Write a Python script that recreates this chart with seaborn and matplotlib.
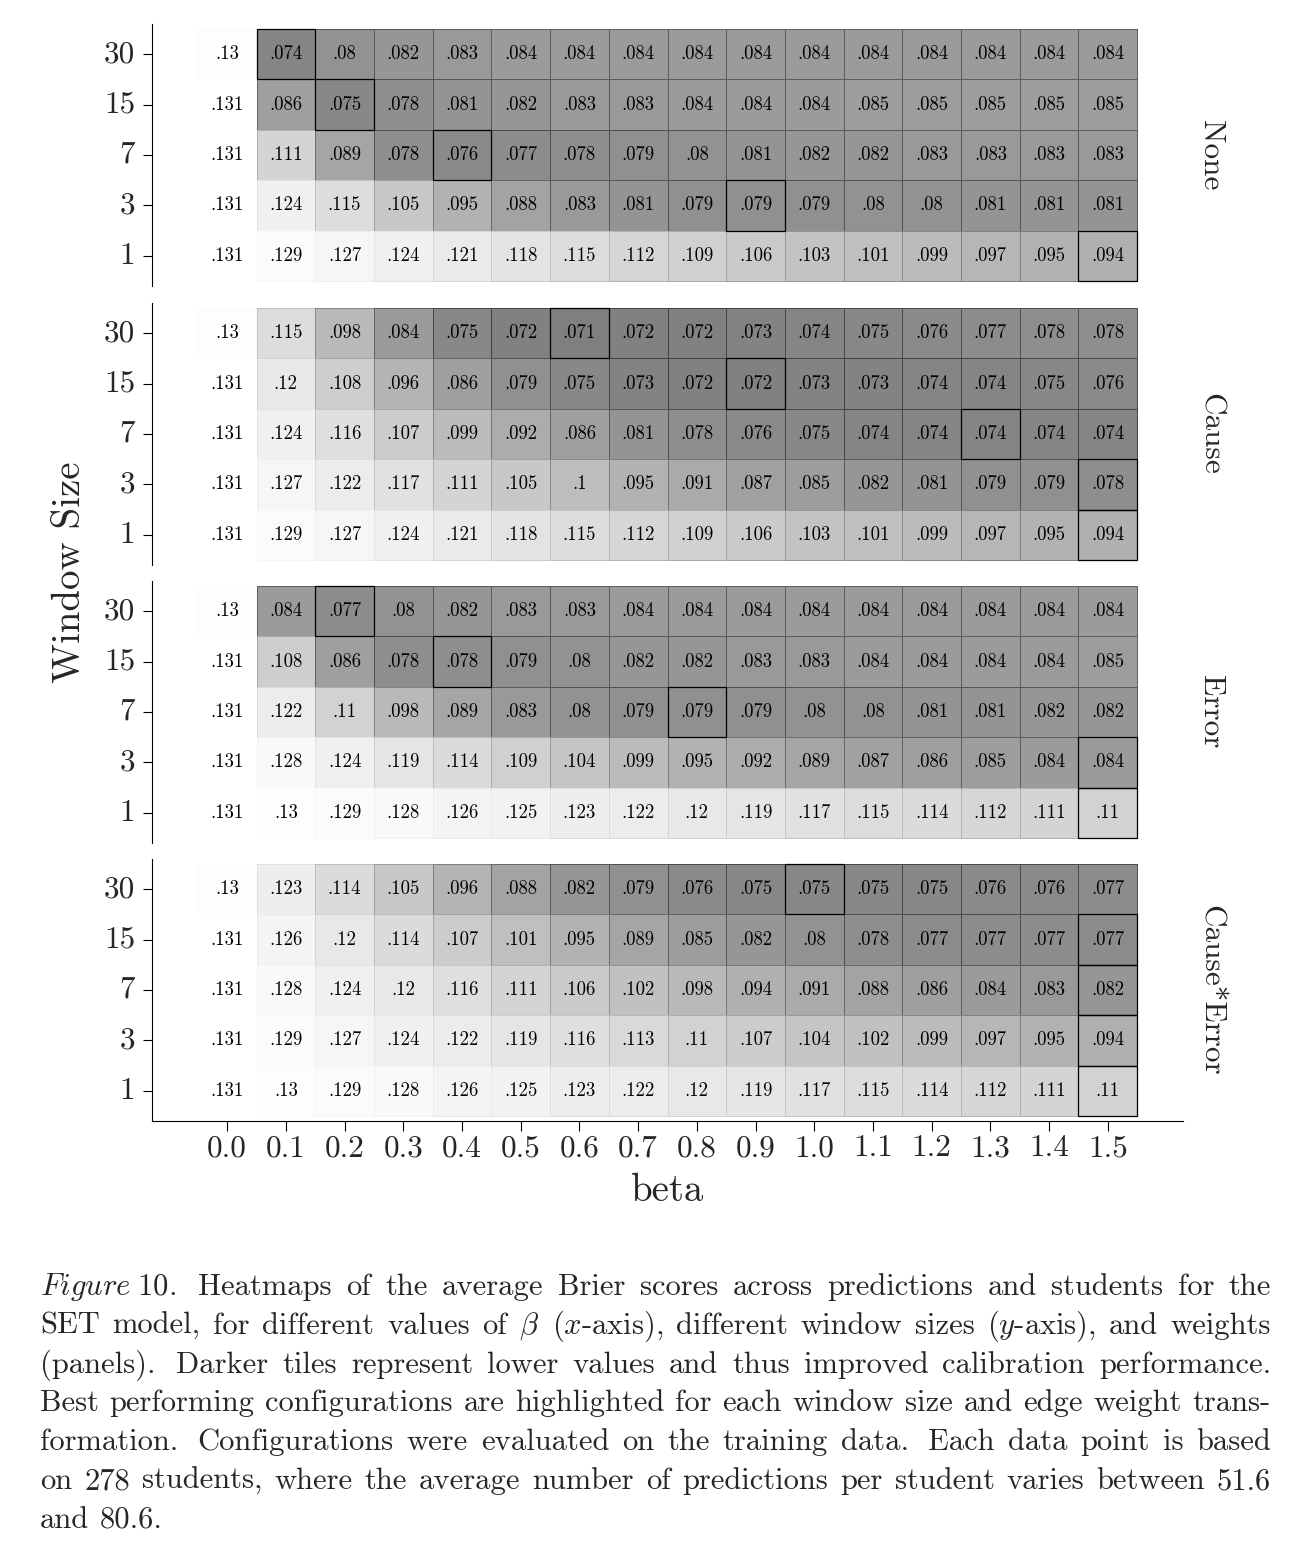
import pandas as pd
import seaborn as sns
import matplotlib.pyplot as plt
from matplotlib.colors import LinearSegmentedColormap
from matplotlib.patches import Rectangle

# datos
betas = ["0.0", "0.1", "0.2", "0.3", "0.4", "0.5", "0.6", "0.7",
         "0.8", "0.9", "1.0", "1.1", "1.2", "1.3", "1.4", "1.5"]
window_sizes = [30, 15, 7, 3, 1]
weights = ["None", "Cause", "Error", "Cause*Error"]

brier_none = [
    [.130, .074, .080, .082, .083, .084, .084, .084, .084, .084, .084, .084, .084, .084, .084, .084],
    [.131, .086, .075, .078, .081, .082, .083, .083, .084, .084, .084, .085, .085, .085, .085, .085],
    [.131, .111, .089, .078, .076, .077, .078, .079, .080, .081, .082, .082, .083, .083, .083, .083],
    [.131, .124, .115, .105, .095, .088, .083, .081, .079, .079, .079, .080, .080, .081, .081, .081],
    [.131, .129, .127, .124, .121, .118, .115, .112, .109, .106, .103, .101, .099, .097, .095, .094],
]
brier_cause = [
    [.130, .115, .098, .084, .075, .072, .071, .072, .072, .073, .074, .075, .076, .077, .078, .078],
    [.131, .120, .108, .096, .086, .079, .075, .073, .072, .072, .073, .073, .074, .074, .075, .076],
    [.131, .124, .116, .107, .099, .092, .086, .081, .078, .076, .075, .074, .074, .074, .074, .074],
    [.131, .127, .122, .117, .111, .105, .100, .095, .091, .087, .085, .082, .081, .079, .079, .078],
    [.131, .129, .127, .124, .121, .118, .115, .112, .109, .106, .103, .101, .099, .097, .095, .094],
]
brier_error = [
    [.130, .084, .077, .080, .082, .083, .083, .084, .084, .084, .084, .084, .084, .084, .084, .084],
    [.131, .108, .086, .078, .078, .079, .080, .082, .082, .083, .083, .084, .084, .084, .084, .085],
    [.131, .122, .110, .098, .089, .083, .080, .079, .079, .079, .080, .080, .081, .081, .082, .082],
    [.131, .128, .124, .119, .114, .109, .104, .099, .095, .092, .089, .087, .086, .085, .084, .084],
    [.131, .130, .129, .128, .126, .125, .123, .122, .120, .119, .117, .115, .114, .112, .111, .110],
]
brier_cause_error = [
    [.130, .123, .114, .105, .096, .088, .082, .079, .076, .075, .075, .075, .075, .076, .076, .077],
    [.131, .126, .120, .114, .107, .101, .095, .089, .085, .082, .080, .078, .077, .077, .077, .077],
    [.131, .128, .124, .120, .116, .111, .106, .102, .098, .094, .091, .088, .086, .084, .083, .082],
    [.131, .129, .127, .124, .122, .119, .116, .113, .110, .107, .104, .102, .099, .097, .095, .094],
    [.131, .130, .129, .128, .126, .125, .123, .122, .120, .119, .117, .115, .114, .112, .111, .110],
]

# columna con el mejor valor de cada fila (resaltada)
best_none = [1, 2, 4, 9, 15]
best_cause = [6, 9, 13, 15, 15]
best_error = [2, 4, 8, 15, 15]
best_cause_error = [10, 15, 15, 15, 15]

paneles = [
    (weights[0], brier_none, best_none),
    (weights[1], brier_cause, best_cause),
    (weights[2], brier_error, best_error),
    (weights[3], brier_cause_error, best_cause_error),
]

caption_lines = [
    r"$\mathit{Figure}\;\mathit{10}$. Heatmaps of the average Brier scores across predictions and students for the",
    r"SET model, for different values of $\beta$ ($x$-axis), different window sizes ($y$-axis), and weights",
    r"(panels). Darker tiles represent lower values and thus improved calibration performance.",
    r"Best performing configurations are highlighted for each window size and edge weight trans-",
    r"formation. Configurations were evaluated on the training data. Each data point is based",
    r"on 278 students, where the average number of predictions per student varies between 51.6",
    r"and 80.6.",
]

sns.set_theme(style="ticks")
plt.rcParams["font.family"] = "cmr10"
plt.rcParams["mathtext.fontset"] = "cm"
plt.rcParams["axes.unicode_minus"] = False
plt.rcParams["axes.linewidth"] = 0.8
plt.rcParams["axes.edgecolor"] = "black"

W, H = 1314, 1566
fig = plt.figure(figsize=(W / 100, H / 100), dpi=100)

cmap = LinearSegmentedColormap.from_list("gris", ["#7f7f7f", "#ffffff"])

def fmt(v):
    return f"{v:.3f}".lstrip("0").rstrip("0")

tops = [24, 303, 581, 859]
for i, (nombre, valores, mejores) in enumerate(paneles):
    df = pd.DataFrame(valores, index=window_sizes, columns=betas)
    etiquetas = df.map(fmt)
    ax = fig.add_axes([152 / W, 1 - (tops[i] + 262) / H, 1031 / W, 262 / H])
    sns.heatmap(df, ax=ax, cmap=cmap, vmin=0.071, vmax=0.131, cbar=False,
                annot=etiquetas, fmt="", linewidths=0.6, linecolor="black",
                annot_kws={"fontsize": 13.5, "color": "black"})
    # bordes de celda: el mismo gris de la celda, pero mas oscuro
    malla = ax.collections[0]
    malla.update_scalarmappable()
    caras = malla.get_facecolor().copy()
    bordes = caras.copy()
    bordes[:, :3] = caras[:, :3] ** 2
    malla.set_edgecolor(bordes)
    for fila, col in enumerate(mejores):
        ax.add_patch(Rectangle((col, fila), 1, 1, fill=False,
                               edgecolor="black", lw=0.9, zorder=5))
    ax.set_xlim(-0.78, len(betas) + 0.78)
    ax.set_ylim(len(window_sizes) + 0.1, -0.1)
    ax.spines["left"].set_visible(True)
    ax.set_ylabel("")
    ax.set_xlabel("")
    ax.set_yticklabels([str(w) for w in window_sizes], rotation=0)
    ax.tick_params(axis="y", length=6.5, width=0.8, pad=5.5,
                   labelsize=22.5, color="black", left=True)
    ax.text(1.027, 0.5, nombre, transform=ax.transAxes, rotation=270,
            ha="center", va="center", fontsize=22.5)
    if i < 3:
        ax.tick_params(axis="x", bottom=False, labelbottom=False)
    else:
        ax.spines["bottom"].set_visible(True)
        ax.set_xticklabels(betas, rotation=0)
        ax.tick_params(axis="x", length=7, width=0.8, pad=2.5,
                       labelsize=22.5, color="black", bottom=True)
        ax.set_xlabel("beta", fontsize=28, labelpad=8)

fig.text(70 / W, 1 - 572 / H, "Window Size", rotation=90, fontsize=28,
         ha="center", va="center")

# pie de figura justificado
fig.canvas.draw()
renderer = fig.canvas.get_renderer()
x_ini, x_fin = 40, 1271
base = 1295
for n, linea in enumerate(caption_lines):
    palabras = linea.split(" ")
    y = 1 - (base + n * 38.8) / H
    textos = [fig.text(0, y, p, fontsize=22, va="baseline", ha="left")
              for p in palabras]
    anchos = [t.get_window_extent(renderer).width for t in textos]
    pesos = [1.5 if p.endswith(".") else 1.0 for p in palabras[:-1]]
    if n == len(caption_lines) - 1:
        pasos = [10.2 * w for w in pesos]
    else:
        libre = (x_fin - x_ini) - sum(anchos)
        pasos = [libre * w / sum(pesos) for w in pesos]
    x = x_ini
    for k, t in enumerate(textos):
        t.set_x(x / W)
        if k < len(pasos):
            x += anchos[k] + pasos[k]

plt.savefig("out.png", dpi=100)
plt.close()
print("Grafico guardado como out.png")
